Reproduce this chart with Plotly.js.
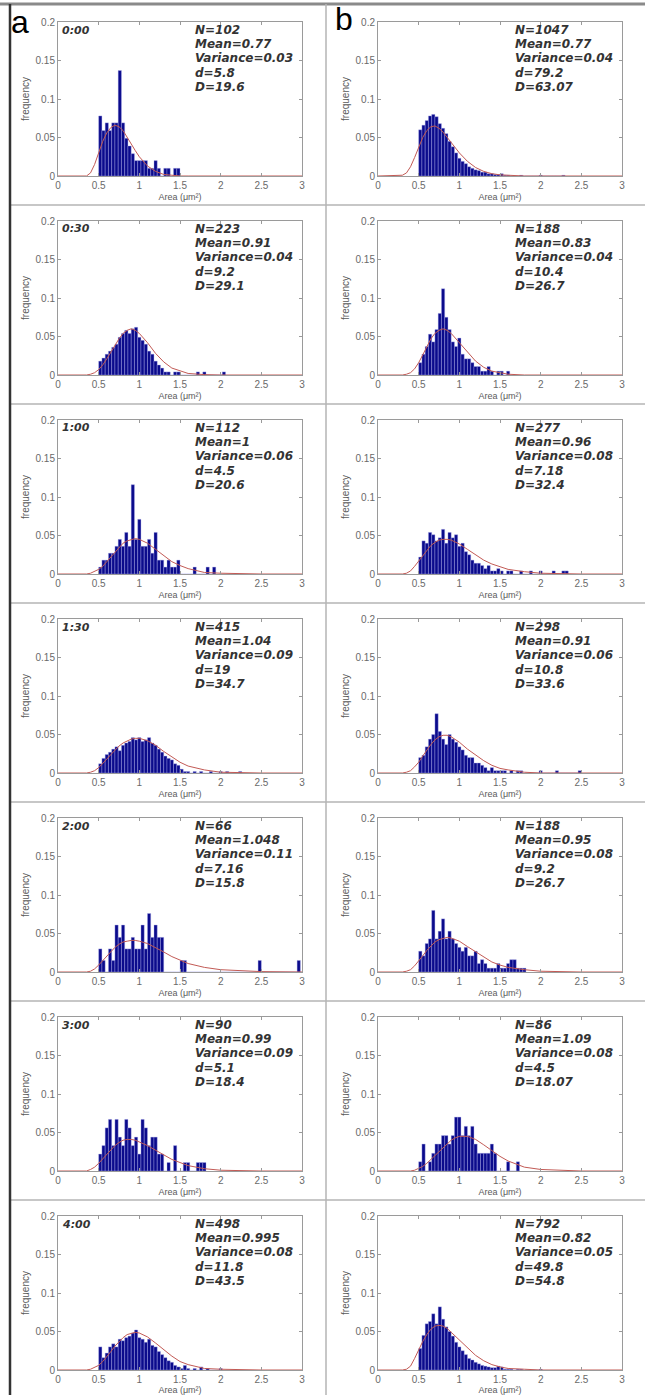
<!DOCTYPE html>
<html>
<head>
<meta charset="utf-8">
<script src="https://cdn.plot.ly/plotly-3.0.1.min.js"></script>
<style>html,body{margin:0;padding:0;background:#fff;}#chart{width:645px;height:1395px;}</style>
</head>
<body>
<div id="chart"></div>
<script>
// ---------- DATA ----------
const timeLabels = ["0:00","0:30","1:00","1:30","2:00","3:00","4:00"];

// column a statistics
const nA    = ["102","223","112","415","66","90","498"];
const meanA = ["0.77","0.91","1","1.04","1.048","0.99","0.995"];
const varA  = ["0.03","0.04","0.06","0.09","0.11","0.09","0.08"];
const dA    = ["5.8","9.2","4.5","19","7.16","5.1","11.8"];
const DA    = ["19.6","29.1","20.6","34.7","15.8","18.4","43.5"];
// column b statistics
const nB    = ["1047","188","277","298","188","86","792"];
const meanB = ["0.77","0.83","0.96","0.91","0.95","1.09","0.82"];
const varB  = ["0.04","0.04","0.08","0.06","0.08","0.08","0.05"];
const dB    = ["79.2","10.4","7.18","10.8","9.2","4.5","49.8"];
const DB    = ["63.07","26.7","32.4","33.6","26.7","18.07","54.8"];

// histogram bin centres (area, um^2)
const binCenters = [0.52,0.56,0.60,0.64,0.68,0.72,0.76,0.80,0.84,0.88,0.92,0.96,1.00,1.04,1.08,1.12,1.16,1.20,1.24,1.28,1.32,1.36,1.40,1.44,1.48,1.52,1.56,1.60,1.64,1.68,1.72,1.76,1.80,1.84,1.88,1.92,1.96,2.00,2.04,2.08,2.12,2.16,2.20,2.24,2.28,2.32,2.36,2.40,2.44,2.48,2.52,2.56,2.60,2.64,2.68,2.72,2.76,2.80,2.84,2.88,2.92,2.96];

// histogram frequencies
const freqA_0000 = [0.078,0.059,0.069,0.059,0.069,0.069,0.137,0.069,0.049,0.039,0.029,0.020,0.020,0.020,0.020,0.010,0.010,0.020,0.010,0,0.010,0.010,0,0.010,0.010];
const freqB_0000 = [0.060,0.066,0.072,0.078,0.080,0.077,0.068,0.062,0.055,0.045,0.038,0.030,0.023,0.019,0.016,0.012,0.010,0.008,0.007,0.005,0.005,0.003,0.003,0.002,0.002,0.003,0.001,0.001,0,0,0,0.001,0,0,0,0,0,0.001,0,0,0,0,0,0,0.001];
const freqA_0030 = [0.018,0.022,0.027,0.031,0.036,0.040,0.049,0.054,0.058,0.054,0.060,0.062,0.049,0.045,0.040,0.031,0.027,0.018,0.013,0.009,0.004,0.004,0,0.004,0.004,0,0,0,0,0,0.004,0,0.004,0,0,0,0,0,0.004];
const freqB_0030 = [0.016,0.027,0.037,0.053,0.043,0.059,0.080,0.112,0.075,0.059,0.043,0.037,0.048,0.027,0.021,0.021,0.016,0.011,0.011,0.005,0.005,0.011,0.005,0,0.005,0.005,0,0.005];
const freqA_0100 = [0.009,0.018,0.018,0.027,0.027,0.036,0.045,0.036,0.054,0.036,0.116,0.045,0.071,0.036,0.036,0.045,0.027,0.054,0.018,0.018,0.009,0.018,0.009,0.009,0.018,0,0,0,0,0.009,0,0,0,0.009,0,0.009];
const freqB_0100 = [0.022,0.043,0.040,0.054,0.051,0.043,0.047,0.058,0.040,0.054,0.047,0.051,0.036,0.040,0.029,0.025,0.018,0.014,0.014,0.011,0.007,0.011,0.004,0.004,0.007,0.004,0,0.004,0.004,0,0,0.004,0,0,0.004,0,0,0.004,0,0,0,0.004,0,0,0.004,0.004];
const freqA_0130 = [0.012,0.019,0.024,0.027,0.031,0.034,0.029,0.036,0.039,0.041,0.046,0.043,0.046,0.041,0.043,0.046,0.039,0.036,0.031,0.027,0.022,0.019,0.017,0.012,0.010,0.005,0.002,0.002,0,0.002,0,0.002,0,0,0.002,0,0,0.002,0,0.002,0,0,0,0.002];
const freqB_0130 = [0.020,0.023,0.034,0.044,0.050,0.077,0.054,0.044,0.037,0.050,0.044,0.040,0.034,0.030,0.023,0.020,0.020,0.013,0.013,0.010,0.007,0.003,0.007,0.003,0.003,0.003,0.003,0,0.003,0,0.003,0.003,0,0,0,0,0,0.003,0,0,0,0,0.003,0,0,0,0,0,0,0.003];
const freqA_0200 = [0.030,0.015,0,0.030,0.015,0.061,0.045,0.061,0.030,0.030,0.045,0.030,0.030,0.061,0.030,0.076,0.045,0.061,0.045,0.045,0,0,0,0,0,0.015,0.015,0,0,0,0,0,0,0,0,0,0,0,0,0,0,0,0,0,0,0,0,0,0,0.015,0,0,0,0,0,0,0,0,0,0,0,0.015];
const freqB_0200 = [0.027,0.021,0.037,0.043,0.080,0.043,0.053,0.069,0.043,0.053,0.043,0.037,0.032,0.027,0.032,0.021,0.021,0.027,0.011,0.016,0.011,0.005,0.005,0.005,0.011,0.005,0.005,0.011,0.016,0.016,0.005,0.005,0.005];
const freqA_0300 = [0.022,0.033,0.056,0.067,0.033,0.067,0.044,0.033,0.067,0.056,0.033,0.044,0.022,0.067,0.056,0.033,0.044,0.044,0.022,0.022,0,0.011,0,0.033,0,0,0.011,0.011,0,0,0.011,0.011,0.011];
const freqB_0300 = [0.012,0.035,0,0.012,0.023,0.035,0.035,0.046,0.046,0.035,0.046,0.070,0.070,0.046,0.058,0.046,0.058,0.035,0.023,0.023,0.023,0.023,0.035,0.023,0,0,0,0.012,0,0,0.012];
const freqA_0400 = [0.030,0.016,0.022,0.030,0.034,0.030,0.040,0.038,0.042,0.044,0.048,0.052,0.042,0.040,0.036,0.040,0.032,0.030,0.024,0.020,0.016,0.012,0.010,0.006,0.004,0.002,0.006,0.002,0,0.002,0,0.004,0,0.002,0,0,0,0.002];
const freqB_0400 = [0.028,0.045,0.060,0.063,0.073,0.060,0.082,0.066,0.056,0.050,0.044,0.036,0.030,0.025,0.020,0.015,0.013,0.010,0.008,0.006,0.005,0.004,0.003,0.003,0.005,0.004,0.001,0.001,0.001,0,0.001,0.001,0,0,0,0,0,0.001];

// fitted curve sample points
const fitX = [0,0.3,0.35,0.4,0.45,0.5,0.55,0.6,0.65,0.7,0.75,0.8,0.85,0.9,0.95,1.0,1.1,1.2,1.3,1.4,1.5,1.6,1.8,2.0,2.5,3.0];
const fitA_0000 = [0,0,0,0.004,0.015,0.030,0.045,0.056,0.063,0.066,0.064,0.059,0.050,0.041,0.033,0.025,0.013,0.006,0.002,0.001,0,0,0,0,0,0];
const fitB_0000 = [0,0.001,0.004,0.012,0.024,0.037,0.050,0.059,0.064,0.065,0.062,0.057,0.050,0.043,0.036,0.030,0.019,0.011,0.006,0.003,0.0015,0.001,0,0,0,0];
const fitA_0030 = [0,0,0,0.001,0.003,0.007,0.013,0.021,0.030,0.039,0.047,0.054,0.058,0.060,0.058,0.054,0.042,0.028,0.017,0.009,0.005,0.002,0.0005,0,0,0];
const fitB_0030 = [0,0,0.001,0.003,0.008,0.016,0.026,0.037,0.047,0.054,0.058,0.060,0.058,0.054,0.048,0.042,0.029,0.018,0.010,0.005,0.003,0.001,0,0,0,0];
const fitA_0100 = [0,0,0,0.001,0.003,0.006,0.010,0.016,0.022,0.029,0.035,0.040,0.043,0.045,0.046,0.045,0.040,0.032,0.024,0.016,0.011,0.007,0.002,0.001,0,0];
const fitB_0100 = [0,0,0.001,0.004,0.010,0.017,0.024,0.031,0.037,0.041,0.044,0.045,0.045,0.044,0.042,0.039,0.032,0.025,0.018,0.013,0.009,0.006,0.003,0.001,0,0];
const fitA_0130 = [0,0,0,0.001,0.003,0.007,0.012,0.018,0.024,0.030,0.035,0.039,0.042,0.044,0.045,0.045,0.042,0.036,0.028,0.021,0.014,0.009,0.004,0.001,0,0];
const fitB_0130 = [0,0,0.001,0.003,0.008,0.014,0.022,0.030,0.037,0.043,0.047,0.049,0.049,0.047,0.044,0.040,0.031,0.023,0.016,0.010,0.006,0.004,0.001,0,0,0];
const fitA_0200 = [0,0,0,0.001,0.004,0.009,0.015,0.021,0.027,0.032,0.036,0.039,0.040,0.041,0.041,0.040,0.037,0.032,0.026,0.020,0.015,0.011,0.006,0.003,0.0005,0];
const fitB_0200 = [0,0,0.001,0.003,0.008,0.014,0.021,0.028,0.034,0.039,0.042,0.044,0.045,0.044,0.042,0.040,0.033,0.026,0.019,0.013,0.009,0.006,0.003,0.001,0,0];
const fitA_0300 = [0,0,0,0.002,0.005,0.010,0.016,0.022,0.028,0.033,0.037,0.040,0.041,0.041,0.040,0.038,0.033,0.027,0.021,0.015,0.011,0.007,0.003,0.001,0,0];
const fitB_0300 = [0,0,0,0,0.001,0.003,0.006,0.010,0.015,0.020,0.026,0.031,0.036,0.040,0.043,0.045,0.045,0.041,0.034,0.026,0.019,0.013,0.005,0.002,0,0];
const fitA_0400 = [0,0,0,0.001,0.003,0.006,0.011,0.017,0.024,0.031,0.037,0.042,0.046,0.048,0.049,0.048,0.043,0.035,0.026,0.018,0.011,0.007,0.002,0.001,0,0];
const fitB_0400 = [0,0,0.001,0.005,0.015,0.027,0.037,0.046,0.053,0.057,0.058,0.057,0.054,0.049,0.044,0.039,0.028,0.019,0.012,0.007,0.004,0.002,0.001,0,0,0];

const xTickVals = [0,0.5,1,1.5,2,2.5,3];
const xTickText = ["0","0.5","1","1.5","2","2.5","3"];
const yTickVals = [0,0.05,0.1,0.15,0.2];
const yTickText = ["0","0.05","0.1","0.15","0.2"];

const freqA = [freqA_0000,freqA_0030,freqA_0100,freqA_0130,freqA_0200,freqA_0300,freqA_0400];
const freqB = [freqB_0000,freqB_0030,freqB_0100,freqB_0130,freqB_0200,freqB_0300,freqB_0400];
const fitA  = [fitA_0000,fitA_0030,fitA_0100,fitA_0130,fitA_0200,fitA_0300,fitA_0400];
const fitB  = [fitB_0000,fitB_0030,fitB_0100,fitB_0130,fitB_0200,fitB_0300,fitB_0400];

// ---------- LAYOUT GEOMETRY ----------
const W = 645, H = 1395;
const colPx = [[58,302],[378,622]];
const rowTop0 = 22, rowStep = 199, plotH = 154;
const FONT = "Liberation Sans, Arial, sans-serif";
const TXTFONT = "DejaVu Sans, sans-serif";

const data = [];
const layout = {
  width: W, height: H,
  margin: {l:0, r:0, t:0, b:0, pad:0},
  paper_bgcolor: "#ffffff", plot_bgcolor: "#ffffff",
  showlegend: false,
  bargap: 0, barmode: "overlay",
  annotations: [], shapes: []
};

for (let r = 0; r < 7; r++) {
  for (let c = 0; c < 2; c++) {
    const k = r*2 + c + 1;
    const xn = k === 1 ? "xaxis" : "xaxis" + k;
    const yn = k === 1 ? "yaxis" : "yaxis" + k;
    const xid = k === 1 ? "x" : "x" + k;
    const yid = k === 1 ? "y" : "y" + k;
    const top = rowTop0 + rowStep*r, bot = top + plotH;
    const common = {
      ticks: "inside", ticklen: 3, tickwidth: 1, tickcolor: "#9a9a9a",
      showline: true, linecolor: "#9a9a9a", linewidth: 1, mirror: "ticks",
      showgrid: false, zeroline: false, fixedrange: true,
      tickfont: {family: FONT, size: 10, color: "#6a6a6a"}
    };
    layout[xn] = Object.assign({}, common, {
      domain: [colPx[c][0]/W, colPx[c][1]/W], anchor: yid,
      range: [0,3], tickmode: "array", tickvals: xTickVals, ticktext: xTickText,
      title: {text: "Area (\u03bcm\u00b2)", font: {family: FONT, size: 9, color: "#5a5a5a"}, standoff: 3}
    });
    layout[yn] = Object.assign({}, common, {
      domain: [1 - bot/H, 1 - top/H], anchor: xid,
      range: [0,0.2], tickmode: "array", tickvals: yTickVals, ticktext: yTickText,
      title: {text: "frequency", font: {family: FONT, size: 10, color: "#5a5a5a"}, standoff: 4}
    });

    const freq = c === 0 ? freqA[r] : freqB[r];
    const fit = c === 0 ? fitA[r] : fitB[r];
    data.push({
      type: "bar", xaxis: xid, yaxis: yid,
      x: binCenters.slice(0, freq.length), y: freq, width: 0.04,
      marker: {color: "#0b0b8c", line: {color: "rgba(175,175,235,0.75)", width: 0.5}},
      hoverinfo: "skip"
    });
    data.push({
      type: "scatter", mode: "lines", xaxis: xid, yaxis: yid,
      x: fitX, y: fit, line: {color: "#c25a55", width: 1}, hoverinfo: "skip"
    });

    // text in the panel
    const lines = c === 0
      ? ["N=" + nA[r], "Mean=" + meanA[r], "Variance=" + varA[r], "d=" + dA[r], "D=" + DA[r]]
      : ["N=" + nB[r], "Mean=" + meanB[r], "Variance=" + varB[r], "d=" + dB[r], "D=" + DB[r]];
    const tfont = {family: TXTFONT, size: 12, color: "#333333", weight: "bold", style: "italic"};
    lines.forEach((t, i) => {
      layout.annotations.push({
        xref: xid + " domain", yref: yid + " domain",
        x: 0.553, y: 1 - (8 + 14.2*i)/plotH, xanchor: "left", yanchor: "middle",
        text: t, showarrow: false, font: tfont
      });
    });
    if (c === 0) {
      layout.annotations.push({
        xref: xid + " domain", yref: yid + " domain",
        x: 0.01, y: 1 - 8/plotH, xanchor: "left", yanchor: "middle",
        text: timeLabels[r], showarrow: false,
        font: {family: TXTFONT, size: 11, color: "#333333", weight: "bold", style: "italic"}
      });
    }
  }
}

// panel letters
layout.annotations.push({xref:"paper", yref:"paper", x:20/W, y:1-22/H, xanchor:"center", yanchor:"middle",
  text:"a", showarrow:false, font:{family:FONT, size:32, color:"#000"}});
layout.annotations.push({xref:"paper", yref:"paper", x:344/W, y:1-19/H, xanchor:"center", yanchor:"middle",
  text:"b", showarrow:false, font:{family:FONT, size:32, color:"#000"}});

// frame / separator lines
const sepColor = "#b4b4b4";
layout.shapes.push({type:"line", xref:"paper", yref:"paper", x0:0, x1:1, y0:1-4/H, y1:1-4/H, line:{color:"#8a8a8a", width:3}});
for (let r = 1; r < 7; r++) {
  const py = 205 + 199*(r-1);
  layout.shapes.push({type:"line", xref:"paper", yref:"paper", x0:10/W, x1:1, y0:1-py/H, y1:1-py/H, line:{color:sepColor, width:1.5}});
}
layout.shapes.push({type:"line", xref:"paper", yref:"paper", x0:326/W, x1:326/W, y0:0, y1:1-4/H, line:{color:sepColor, width:1.5}});
layout.shapes.push({type:"line", xref:"paper", yref:"paper", x0:10/W, x1:10/W, y0:0, y1:1-4/H, line:{color:"#333333", width:2.5}});

Plotly.newPlot("chart", data, layout, {staticPlot: true, displayModeBar: false});
</script>
</body>
</html>
